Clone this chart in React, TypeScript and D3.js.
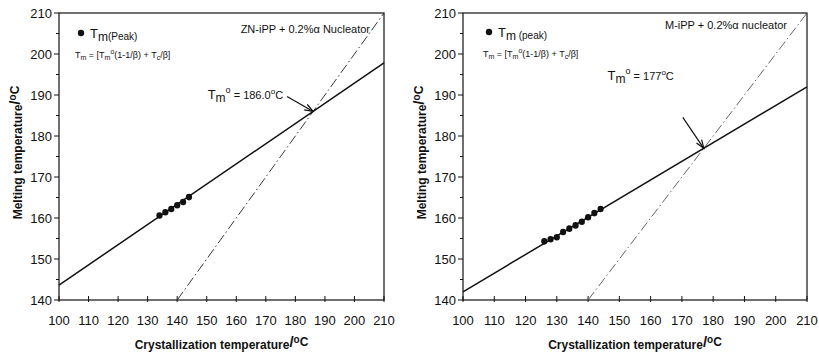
import React from 'react';
import * as d3 from 'd3';

// axis ticks (both panels share them)
const xTicks = [100, 110, 120, 130, 140, 150, 160, 170, 180, 190, 200, 210];
const yTicks = [140, 150, 160, 170, 180, 190, 200, 210];
const yMinor = [145, 155, 165, 175, 185, 195, 205];

// ZN-iPP + 0.2% alpha nucleator
const znTc = [134, 136, 138, 140, 142, 144];
const znTm = [160.6, 161.4, 162.2, 163.1, 163.9, 165.1];
const znTm0 = 186.0;
const znBeta = 2.03;

// M-iPP + 0.2% alpha nucleator
const mTc = [126, 128, 130, 132, 134, 136, 138, 140, 142, 144];
const mTm = [154.3, 154.8, 155.3, 156.6, 157.4, 158.2, 159.1, 160.2, 161.2, 162.2];
const mTm0 = 177;
const mBeta = 2.2;

const NARROW = "'Liberation Sans Narrow', 'Arial Narrow', 'Liberation Sans', Arial, sans-serif";
const SANS = "'Liberation Sans', Arial, sans-serif";

type Seg = { t: string; s?: number; size?: number };

// text with sub/superscripts, s = vertical shift in px (negative = up)
const Rich = ({ x, y, segs, size, anchor = 'start', weight = 'normal', family = NARROW }: any) => {
  let prev = 0;
  return (
    <text x={x} y={y} fontSize={size} fontFamily={family} fontWeight={weight} textAnchor={anchor} fill="#111">
      {segs.map((g: Seg, i: number) => {
        const sh = g.s || 0;
        const dy = sh - prev;
        prev = sh;
        return (
          <tspan key={i} dy={dy} fontSize={g.size || size}>
            {g.t}
          </tspan>
        );
      })}
    </text>
  );
};

const Panel = (props: any) => {
  const { x0, x1, tc, tm, tm0, beta, title, titleX, titleY, tm0Text, lab, arrow, legend, dashColor } = props;
  const top = 13, bottom = 300;
  const x = d3.scaleLinear().domain([100, 210]).range([x0, x1]);
  const y = d3.scaleLinear().domain([140, 210]).range([bottom, top]);

  const fit = (t: number) => tm0 + (t - tm0) / beta;
  const fitLine = d3.line<number>().x(t => x(t)).y(t => y(fit(t)))([100, 210]);
  const diag = d3.line<number>().x(t => x(t)).y(t => y(t))([140, 210]);

  const ix = x(tm0), iy = y(tm0);
  const ax = ix + arrow[0], ay = iy + arrow[1];
  const ang = Math.atan2(iy - ay, ix - ax);
  const head = (a: number) => `${ix - 9 * Math.cos(ang + a)},${iy - 9 * Math.sin(ang + a)}`;

  return (
    <g>
      <rect x={x0} y={top} width={x1 - x0} height={bottom - top} fill="none" stroke="#111" strokeWidth={1.2} />
      {/* y axis */}
      {yTicks.map(v => (
        <g key={v}>
          <line x1={x0 - 5} x2={x0} y1={y(v)} y2={y(v)} stroke="#111" />
          <text x={x0 - 7} y={y(v) + 4.5} fontSize={13} fontFamily={NARROW} textAnchor="end" fill="#111">{v}</text>
        </g>
      ))}
      {yMinor.map(v => (
        <line key={v} x1={x0 - 3} x2={x0} y1={y(v)} y2={y(v)} stroke="#111" />
      ))}
      {/* x axis */}
      {xTicks.map(v => (
        <g key={v}>
          <line x1={x(v)} x2={x(v)} y1={bottom - 4} y2={bottom + 2} stroke="#111" />
          <text x={x(v)} y={bottom + 25} fontSize={13} fontFamily={NARROW} textAnchor="middle" fill="#111">{v}</text>
        </g>
      ))}
      <Rich x={(x0 + x1) / 2} y={349} size={12} anchor="middle" weight="bold" family={SANS}
        segs={[{ t: 'Crystallization temperature' }, { t: '/', size: 15, s: -2 }, { t: 'o', s: -6, size: 10 }, { t: 'C', s: -3, size: 12 }]} />
      <g transform={`translate(${x0 - 37},${(top + bottom) / 2 - 4}) rotate(-90)`}>
        <Rich x={0} y={0} size={12} anchor="middle" weight="bold" family={SANS}
          segs={[{ t: 'Melting temperature' }, { t: '/', size: 15, s: -2 }, { t: 'o', s: -6, size: 10 }, { t: 'C', s: -3, size: 12 }]} />
      </g>

      {/* lines */}
      <path d={diag || ''} fill="none" stroke={dashColor} strokeWidth={0.9} strokeDasharray="10,3,1.5,3" />
      <path d={fitLine || ''} fill="none" stroke="#111" strokeWidth={1.5} />

      {/* data */}
      {tc.map((t: number, i: number) => (
        <ellipse key={i} cx={x(t)} cy={y(tm[i])} rx={3.1} ry={3.3} fill="#111" />
      ))}

      {/* annotation */}
      <line x1={ax} y1={ay} x2={ix} y2={iy} stroke="#111" strokeWidth={1.2} />
      <polyline points={`${head(0.35)} ${ix},${iy} ${head(-0.35)}`} fill="none" stroke="#111" strokeWidth={1.2} />
      <Rich x={ix + lab[0]} y={iy + lab[1]} size={13} anchor="end"
        segs={[{ t: 'T' }, { t: 'm', s: 3, size: 12 }, { t: 'o', s: -6, size: 9 }, { t: tm0Text, s: 0, size: 11 }, { t: 'o', s: -5, size: 8 }, { t: 'C', s: 0, size: 11 }]} />

      {/* title */}
      <text x={titleX} y={titleY} fontSize={11} fontFamily={NARROW} fill="#111" textAnchor="end">{title}</text>

      {/* legend */}
      <circle cx={x0 + legend[0]} cy={legend[1]} r={3.2} fill="#111" />
      <Rich x={x0 + legend[0] + 9} y={legend[1] + 5} size={13}
        segs={[{ t: 'T' }, { t: 'm', s: 3, size: 12 }, { t: props.peak, s: 2, size: 10 }]} />
      <Rich x={x0 + legend[0] - 6} y={legend[1] + 25} size={9}
        segs={[{ t: 'T' }, { t: 'm', s: 2, size: 7 }, { t: ' = [T', s: 0 }, { t: 'm', s: 2, size: 7 }, { t: 'o', s: -4, size: 7 },
          { t: '(1-1/β) + T', s: 0 }, { t: 'c', s: 2, size: 7 }, { t: '/β]', s: 0 }]} />
    </g>
  );
};

export default function App() {
  return (
    <svg width={819} height={356} style={{ position: 'absolute', left: 0, top: 0, background: '#fff' }}>
      <rect width={819} height={356} fill="#fff" />
      <Panel x0={59} x1={384} tc={znTc} tm={znTm} tm0={znTm0} beta={znBeta}
        title="ZN-iPP + 0.2%α Nucleator" titleX={370} titleY={33}
        tm0Text=" = 186.0" lab={[-30, -12]} arrow={[-26, -15]} legend={[22, 33]} peak="(Peak)" dashColor="#222" />
      <Panel x0={463} x1={807} tc={mTc} tm={mTm} tm0={mTm0} beta={mBeta}
        title="M-iPP + 0.2%α nucleator" titleX={787} titleY={29}
        tm0Text=" = 177" lab={[-30, -68]} arrow={[-21, -31]} legend={[26, 32]} peak=" (peak)" dashColor="#555" />
    </svg>
  );
}
